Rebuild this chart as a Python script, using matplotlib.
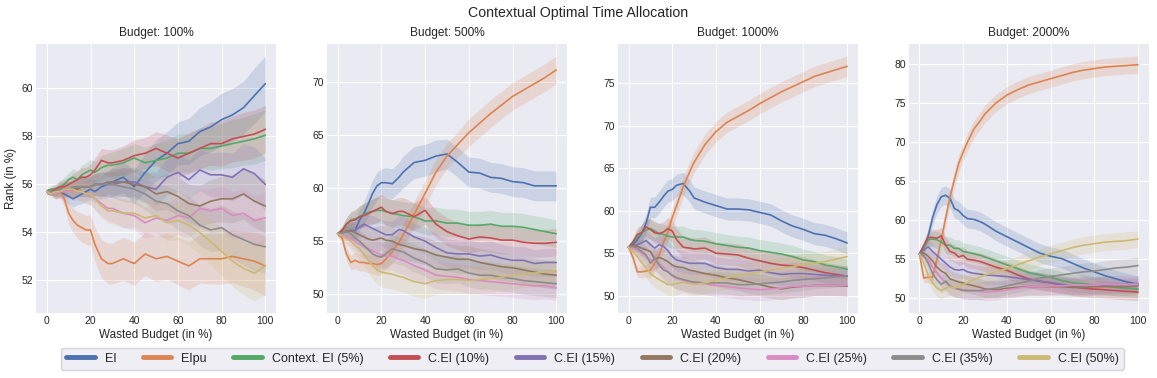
import numpy as np
import matplotlib
matplotlib.use('Agg')
import matplotlib.pyplot as plt
from matplotlib.lines import Line2D

plt.style.use('seaborn-v0_8-darkgrid')
plt.rcParams['font.family'] = ['Liberation Sans', 'DejaVu Sans']

# wasted budget (in %), common sampling of all curves
wasted = [0, 2, 4, 6, 8, 10, 12, 14, 16, 18, 20, 22, 25, 28, 30, 35, 40, 45,
          50, 55, 60, 65, 70, 75, 80, 85, 90, 95, 100]

methods = ['EI', 'EIpu', 'Context. EI (5%)', 'C.EI (10%)', 'C.EI (15%)',
           'C.EI (20%)', 'C.EI (25%)', 'C.EI (35%)', 'C.EI (50%)']
colors = ['#4C72B0', '#DD8452', '#55A868', '#C44E52', '#8172B3',
          '#937860', '#DA8BC3', '#8C8C8C', '#CCB974']
budgets = ['Budget: 100%', 'Budget: 500%', 'Budget: 1000%', 'Budget: 2000%']

# ---- Budget 100% : mean rank
rank_100 = [
    [55.7, 55.7, 55.6, 55.7, 55.6, 55.5, 55.4, 55.5, 55.6, 55.7, 55.8, 55.7, 55.9, 56.0, 56.1, 56.3, 55.9, 56.5, 57.0, 57.3, 57.7, 57.8, 58.2, 58.4, 58.7, 58.9, 59.2, 59.7, 60.2],
    [55.7, 55.7, 55.6, 55.7, 55.4, 54.8, 54.5, 54.3, 54.2, 54.1, 54.1, 53.5, 52.9, 52.7, 52.7, 52.9, 52.7, 53.1, 52.9, 53.0, 52.8, 52.6, 52.9, 52.9, 52.9, 53.0, 52.9, 52.8, 52.6],
    [55.7, 55.8, 55.8, 55.9, 56.0, 56.2, 56.3, 56.2, 56.4, 56.5, 56.6, 56.5, 56.7, 56.8, 56.8, 56.9, 57.1, 56.9, 57.0, 57.1, 57.3, 57.3, 57.5, 57.5, 57.6, 57.7, 57.8, 57.9, 58.05],
    [55.7, 55.7, 55.8, 55.9, 55.9, 56.0, 56.1, 56.2, 56.3, 56.3, 56.4, 56.6, 57.0, 56.9, 56.9, 57.0, 57.2, 57.3, 57.5, 57.3, 57.1, 57.3, 57.5, 57.7, 57.7, 57.9, 58.0, 58.1, 58.3],
    [55.7, 55.7, 55.7, 55.8, 55.8, 55.8, 55.8, 55.9, 55.9, 55.9, 55.9, 56.0, 56.0, 56.0, 56.0, 56.1, 56.1, 55.9, 55.8, 56.3, 56.5, 56.2, 56.6, 56.4, 56.4, 56.3, 56.65, 56.45, 56.0],
    [55.7, 55.7, 55.7, 55.7, 55.8, 55.8, 55.8, 55.8, 55.9, 55.9, 55.9, 56.0, 56.0, 56.1, 56.1, 56.1, 56.0, 55.9, 55.6, 55.7, 55.5, 55.2, 55.1, 55.3, 55.4, 55.4, 55.6, 55.3, 55.1],
    [55.7, 55.7, 55.6, 55.7, 55.7, 55.7, 55.7, 55.7, 55.7, 55.6, 55.6, 55.4, 55.2, 55.0, 55.0, 54.8, 54.7, 54.4, 54.6, 54.5, 54.7, 54.6, 55.0, 54.9, 55.0, 54.7, 54.8, 54.5, 54.6],
    [55.7, 55.7, 55.7, 55.8, 55.8, 55.8, 55.9, 55.9, 55.9, 55.9, 55.9, 56.0, 56.0, 56.0, 56.0, 55.9, 55.8, 55.6, 55.3, 55.2, 54.9, 54.7, 54.3, 54.1, 54.2, 53.9, 53.7, 53.5, 53.4],
    [55.7, 55.6, 55.7, 55.7, 55.8, 55.8, 55.8, 55.7, 55.7, 55.6, 55.6, 55.4, 55.1, 54.9, 54.9, 54.8, 54.8, 54.6, 54.7, 54.4, 54.5, 54.3, 54.0, 53.6, 53.2, 52.8, 52.5, 52.3, 52.6],
]
# half width of the shaded band
band_100 = [
    [0.1, 0.15, 0.2, 0.25, 0.3, 0.3, 0.35, 0.35, 0.4, 0.4, 0.45, 0.45, 0.5, 0.55, 0.6, 0.65, 0.7, 0.8, 0.85, 0.9, 0.9, 0.95, 1.0, 1.05, 1.1, 1.1, 1.1, 1.15, 1.15],
    [0.1, 0.15, 0.2, 0.25, 0.3, 0.45, 0.5, 0.55, 0.6, 0.6, 0.65, 0.7, 0.8, 0.85, 0.85, 0.9, 0.9, 0.9, 0.95, 0.95, 1.0, 1.0, 1.0, 1.05, 1.05, 1.1, 1.15, 1.2, 1.25],
    [0.1, 0.15, 0.2, 0.25, 0.3, 0.3, 0.35, 0.35, 0.4, 0.4, 0.45, 0.45, 0.5, 0.5, 0.55, 0.6, 0.6, 0.65, 0.7, 0.75, 0.8, 0.8, 0.85, 0.9, 0.95, 1.0, 1.0, 1.05, 1.05],
    [0.1, 0.15, 0.2, 0.25, 0.3, 0.3, 0.35, 0.35, 0.4, 0.4, 0.45, 0.5, 0.5, 0.55, 0.55, 0.6, 0.65, 0.65, 0.7, 0.75, 0.8, 0.85, 0.85, 0.9, 0.95, 0.95, 1.0, 1.0, 1.0],
    [0.1, 0.15, 0.2, 0.25, 0.3, 0.3, 0.35, 0.35, 0.4, 0.4, 0.45, 0.45, 0.5, 0.5, 0.55, 0.6, 0.6, 0.65, 0.7, 0.75, 0.8, 0.8, 0.85, 0.9, 0.95, 1.0, 1.05, 1.1, 1.1],
    [0.1, 0.15, 0.2, 0.25, 0.3, 0.3, 0.35, 0.35, 0.4, 0.4, 0.45, 0.45, 0.5, 0.5, 0.55, 0.6, 0.6, 0.65, 0.7, 0.75, 0.8, 0.8, 0.85, 0.9, 0.95, 1.0, 1.05, 1.1, 1.1],
    [0.1, 0.15, 0.2, 0.25, 0.3, 0.3, 0.35, 0.35, 0.4, 0.4, 0.45, 0.45, 0.5, 0.5, 0.55, 0.6, 0.6, 0.65, 0.7, 0.75, 0.8, 0.8, 0.85, 0.9, 0.95, 1.0, 1.0, 1.05, 1.05],
    [0.1, 0.15, 0.2, 0.25, 0.3, 0.3, 0.35, 0.35, 0.4, 0.4, 0.45, 0.45, 0.5, 0.5, 0.55, 0.6, 0.6, 0.65, 0.7, 0.75, 0.8, 0.8, 0.85, 0.9, 0.95, 1.0, 1.05, 1.1, 1.1],
    [0.1, 0.15, 0.2, 0.25, 0.3, 0.3, 0.35, 0.35, 0.4, 0.4, 0.45, 0.45, 0.5, 0.5, 0.55, 0.6, 0.6, 0.65, 0.7, 0.75, 0.8, 0.85, 0.9, 0.95, 1.0, 1.05, 1.1, 1.15, 1.2],
]

# ---- Budget 500%
rank_500 = [
    [55.7, 55.8, 55.9, 56.0, 56.0, 57.0, 57.6, 58.5, 59.5, 60.2, 60.5, 60.5, 60.4, 61.0, 61.5, 62.4, 62.6, 63.0, 63.2, 62.4, 61.5, 61.4, 61.0, 60.9, 60.6, 60.5, 60.2, 60.2, 60.2],
    [55.7, 55.3, 53.8, 53.0, 53.2, 53.0, 53.0, 52.9, 52.9, 52.8, 52.9, 53.3, 54.0, 54.9, 55.6, 57.5, 59.5, 61.5, 63.0, 64.1, 65.2, 66.1, 67.0, 67.8, 68.6, 69.2, 69.8, 70.4, 71.1],
    [55.7, 56.0, 56.6, 57.0, 57.1, 57.3, 57.5, 57.7, 57.8, 57.9, 57.9, 57.8, 57.6, 57.5, 57.4, 57.3, 56.9, 56.9, 56.7, 56.7, 56.5, 56.5, 56.6, 56.4, 56.4, 56.3, 56.1, 55.9, 55.7],
    [55.7, 56.0, 56.6, 56.9, 57.0, 57.3, 57.4, 57.6, 57.8, 58.0, 58.2, 57.8, 57.6, 57.8, 57.8, 57.3, 57.9, 56.6, 55.9, 55.5, 55.2, 55.4, 55.3, 55.1, 55.1, 54.9, 54.8, 54.8, 54.9],
    [55.7, 55.8, 55.9, 56.0, 56.0, 56.3, 56.6, 56.4, 56.2, 56.0, 55.8, 55.6, 55.6, 56.1, 56.0, 55.4, 55.0, 54.4, 53.9, 53.8, 53.8, 53.6, 53.7, 53.4, 53.2, 53.2, 52.9, 53.0, 53.0],
    [55.7, 55.8, 56.0, 56.0, 55.8, 55.6, 55.4, 55.2, 55.1, 55.2, 55.3, 55.1, 55.0, 54.7, 54.6, 54.3, 54.1, 53.7, 53.5, 53.3, 53.3, 53.0, 52.8, 52.6, 52.5, 52.3, 52.1, 51.9, 51.8],
    [55.7, 55.6, 55.4, 55.2, 55.0, 54.7, 54.5, 54.3, 54.1, 53.9, 53.7, 53.6, 53.6, 53.3, 53.2, 52.7, 52.3, 51.8, 51.7, 51.6, 51.4, 51.3, 51.2, 51.1, 51.0, 50.9, 50.8, 50.8, 50.6],
    [55.7, 55.8, 55.9, 55.7, 55.3, 55.0, 54.6, 54.2, 53.8, 53.6, 53.5, 53.8, 54.3, 54.1, 54.0, 53.4, 53.0, 52.4, 52.3, 52.4, 52.0, 51.8, 51.8, 51.6, 51.5, 51.3, 51.2, 51.1, 51.0],
    [55.7, 55.5, 55.2, 55.0, 54.6, 54.3, 53.8, 53.2, 52.7, 52.3, 52.1, 52.0, 51.9, 51.7, 51.6, 51.2, 51.0, 51.3, 51.4, 51.4, 51.3, 51.4, 51.5, 51.6, 51.8, 51.9, 52.0, 52.1, 52.2],
]
band_500 = [
    [0.2, 0.4, 0.6, 0.8, 0.9, 1.0, 1.1, 1.2, 1.3, 1.3, 1.3, 1.4, 1.4, 1.4, 1.5, 1.5, 1.5, 1.5, 1.4, 1.4, 1.4, 1.4, 1.4, 1.4, 1.4, 1.4, 1.4, 1.4, 1.4],
    [0.2, 0.4, 0.6, 0.7, 0.8, 0.8, 0.8, 0.9, 0.9, 1.0, 1.0, 1.0, 1.1, 1.1, 1.1, 1.2, 1.2, 1.2, 1.2, 1.2, 1.3, 1.3, 1.3, 1.3, 1.3, 1.3, 1.3, 1.3, 1.3],
    [0.2, 0.4, 0.6, 0.8, 0.9, 1.0, 1.1, 1.1, 1.2, 1.2, 1.2, 1.3, 1.3, 1.3, 1.3, 1.3, 1.3, 1.3, 1.3, 1.3, 1.3, 1.3, 1.3, 1.3, 1.3, 1.3, 1.3, 1.3, 1.3],
    [0.2, 0.4, 0.6, 0.8, 0.9, 1.0, 1.1, 1.1, 1.2, 1.2, 1.2, 1.3, 1.3, 1.3, 1.3, 1.3, 1.3, 1.3, 1.3, 1.3, 1.3, 1.3, 1.3, 1.3, 1.3, 1.3, 1.3, 1.3, 1.3],
    [0.2, 0.4, 0.6, 0.8, 0.9, 1.0, 1.1, 1.1, 1.2, 1.2, 1.2, 1.3, 1.3, 1.3, 1.3, 1.3, 1.3, 1.3, 1.3, 1.3, 1.3, 1.3, 1.3, 1.3, 1.3, 1.3, 1.3, 1.3, 1.3],
    [0.2, 0.4, 0.6, 0.8, 0.9, 1.0, 1.1, 1.1, 1.2, 1.2, 1.2, 1.3, 1.3, 1.3, 1.3, 1.3, 1.3, 1.3, 1.3, 1.3, 1.3, 1.3, 1.3, 1.3, 1.3, 1.3, 1.3, 1.3, 1.3],
    [0.2, 0.4, 0.6, 0.8, 0.9, 1.0, 1.1, 1.1, 1.2, 1.2, 1.2, 1.3, 1.3, 1.3, 1.3, 1.3, 1.3, 1.3, 1.3, 1.3, 1.3, 1.3, 1.3, 1.3, 1.3, 1.3, 1.3, 1.2, 1.2],
    [0.2, 0.4, 0.6, 0.8, 0.9, 1.0, 1.1, 1.1, 1.2, 1.2, 1.2, 1.3, 1.3, 1.3, 1.3, 1.3, 1.3, 1.3, 1.3, 1.3, 1.3, 1.3, 1.3, 1.3, 1.3, 1.3, 1.3, 1.3, 1.3],
    [0.2, 0.4, 0.6, 0.8, 0.9, 1.0, 1.1, 1.2, 1.3, 1.3, 1.4, 1.4, 1.4, 1.4, 1.4, 1.4, 1.4, 1.3, 1.3, 1.3, 1.3, 1.3, 1.3, 1.3, 1.3, 1.3, 1.3, 1.3, 1.3],
]

# ---- Budget 1000%
rank_1000 = [
    [55.7, 56.0, 56.6, 57.3, 58.5, 60.4, 60.4, 61.0, 61.7, 62.3, 62.5, 63.0, 63.2, 62.3, 61.5, 61.0, 60.6, 60.2, 60.2, 60.1, 59.8, 59.5, 58.8, 58.2, 57.8, 57.3, 57.1, 56.7, 56.2],
    [55.7, 54.5, 52.8, 52.8, 52.9, 53.0, 53.8, 54.8, 56.2, 57.5, 59.2, 60.6, 62.8, 64.6, 65.7, 67.8, 69.3, 70.4, 71.1, 71.8, 72.6, 73.3, 74.0, 74.6, 75.2, 75.8, 76.2, 76.6, 77.0],
    [55.7, 56.3, 56.9, 57.4, 57.7, 57.9, 57.6, 57.3, 57.2, 57.0, 56.9, 56.9, 56.9, 56.6, 56.5, 56.4, 56.1, 55.9, 55.7, 55.6, 55.3, 55.1, 54.9, 54.6, 54.2, 54.0, 53.6, 53.4, 53.1],
    [55.7, 56.3, 57.2, 57.4, 58.1, 57.8, 57.4, 57.3, 57.5, 57.9, 57.6, 56.6, 55.7, 55.6, 55.5, 55.6, 55.0, 54.9, 54.8, 54.4, 54.1, 53.8, 53.6, 53.5, 53.3, 53.0, 52.7, 52.5, 52.3],
    [55.7, 55.9, 56.0, 56.2, 56.5, 56.0, 55.6, 56.0, 55.8, 55.3, 54.6, 54.2, 54.0, 53.8, 53.8, 53.8, 53.3, 53.1, 53.1, 52.9, 53.0, 52.7, 52.5, 52.6, 52.6, 52.5, 52.4, 52.3, 52.3],
    [55.7, 55.9, 55.8, 55.6, 55.4, 55.2, 54.3, 54.5, 54.3, 54.0, 53.6, 53.4, 53.3, 53.0, 52.9, 52.6, 52.4, 52.1, 51.9, 51.6, 51.3, 51.0, 50.8, 51.0, 51.1, 51.2, 51.2, 51.2, 51.1],
    [55.7, 55.6, 55.4, 55.0, 54.6, 54.2, 54.1, 53.8, 53.3, 52.8, 52.3, 52.0, 51.8, 51.6, 51.5, 51.4, 51.2, 51.1, 50.9, 50.8, 50.7, 50.8, 50.9, 51.1, 51.1, 51.2, 51.2, 51.2, 51.2],
    [55.7, 55.8, 55.6, 55.2, 54.8, 53.8, 54.4, 53.6, 53.0, 52.8, 52.4, 52.1, 51.9, 51.7, 51.6, 51.5, 51.5, 51.5, 51.3, 51.3, 51.4, 51.5, 51.6, 51.8, 51.9, 52.0, 52.1, 52.2, 52.3],
    [55.7, 55.2, 54.6, 53.9, 53.3, 52.6, 52.2, 51.9, 51.6, 51.3, 51.3, 51.4, 51.6, 51.4, 51.3, 51.5, 51.8, 52.1, 52.4, 52.6, 52.8, 53.0, 53.2, 53.4, 53.7, 53.8, 54.0, 54.3, 54.6],
]
band_1000 = [
    [0.2, 0.5, 0.8, 1.0, 1.1, 1.2, 1.2, 1.3, 1.3, 1.3, 1.3, 1.3, 1.3, 1.3, 1.3, 1.3, 1.3, 1.3, 1.3, 1.3, 1.3, 1.3, 1.3, 1.3, 1.3, 1.3, 1.3, 1.3, 1.3],
    [0.2, 0.5, 0.6, 0.7, 0.8, 0.9, 1.0, 1.0, 1.1, 1.1, 1.2, 1.2, 1.2, 1.2, 1.2, 1.2, 1.2, 1.2, 1.2, 1.2, 1.2, 1.2, 1.2, 1.2, 1.2, 1.2, 1.2, 1.2, 1.2],
    [0.2, 0.5, 0.8, 1.0, 1.1, 1.2, 1.2, 1.2, 1.2, 1.3, 1.3, 1.3, 1.3, 1.3, 1.3, 1.3, 1.3, 1.3, 1.3, 1.3, 1.3, 1.3, 1.3, 1.3, 1.3, 1.2, 1.2, 1.2, 1.2],
    [0.2, 0.5, 0.8, 1.0, 1.1, 1.2, 1.2, 1.2, 1.2, 1.3, 1.3, 1.3, 1.3, 1.3, 1.3, 1.3, 1.3, 1.3, 1.3, 1.3, 1.3, 1.3, 1.3, 1.3, 1.3, 1.2, 1.2, 1.2, 1.2],
    [0.2, 0.5, 0.8, 1.0, 1.1, 1.2, 1.2, 1.2, 1.2, 1.3, 1.3, 1.3, 1.3, 1.3, 1.3, 1.3, 1.3, 1.3, 1.3, 1.3, 1.3, 1.3, 1.3, 1.3, 1.3, 1.2, 1.2, 1.2, 1.2],
    [0.2, 0.5, 0.8, 1.0, 1.1, 1.2, 1.2, 1.2, 1.2, 1.3, 1.3, 1.3, 1.3, 1.3, 1.3, 1.3, 1.3, 1.3, 1.3, 1.3, 1.3, 1.3, 1.3, 1.3, 1.3, 1.2, 1.2, 1.2, 1.2],
    [0.2, 0.5, 0.8, 1.0, 1.1, 1.2, 1.2, 1.2, 1.2, 1.3, 1.3, 1.3, 1.3, 1.3, 1.3, 1.3, 1.3, 1.3, 1.3, 1.3, 1.3, 1.3, 1.3, 1.3, 1.3, 1.2, 1.2, 1.2, 1.2],
    [0.2, 0.5, 0.8, 1.0, 1.1, 1.2, 1.2, 1.2, 1.2, 1.3, 1.3, 1.3, 1.3, 1.3, 1.3, 1.3, 1.3, 1.3, 1.3, 1.3, 1.3, 1.3, 1.3, 1.3, 1.3, 1.2, 1.2, 1.2, 1.2],
    [0.2, 0.5, 0.8, 1.0, 1.1, 1.2, 1.2, 1.2, 1.2, 1.3, 1.3, 1.3, 1.3, 1.3, 1.3, 1.3, 1.3, 1.3, 1.3, 1.3, 1.3, 1.3, 1.3, 1.3, 1.3, 1.2, 1.2, 1.2, 1.2],
]

# ---- Budget 2000%
rank_2000 = [
    [55.7, 56.5, 58.0, 60.3, 62.0, 63.0, 63.2, 62.8, 61.5, 61.2, 60.6, 60.2, 60.1, 59.8, 59.5, 58.6, 57.9, 57.2, 56.5, 55.8, 55.4, 55.1, 54.5, 53.9, 53.4, 52.9, 52.5, 52.1, 51.8],
    [55.7, 52.6, 52.7, 52.7, 55.0, 57.5, 60.3, 63.0, 65.2, 67.3, 68.7, 70.0, 71.7, 72.8, 73.6, 75.0, 76.0, 76.7, 77.3, 77.7, 78.1, 78.5, 78.9, 79.2, 79.4, 79.6, 79.7, 79.8, 79.9],
    [55.7, 56.5, 57.5, 57.6, 57.5, 57.2, 56.8, 56.8, 56.4, 56.4, 56.0, 55.9, 55.7, 55.5, 55.3, 54.8, 54.3, 53.8, 53.3, 53.0, 52.7, 52.3, 52.0, 51.9, 51.7, 51.6, 51.4, 51.3, 51.2],
    [55.7, 56.8, 57.8, 57.8, 57.7, 58.0, 56.8, 56.0, 55.8, 55.3, 55.5, 55.0, 54.9, 54.7, 54.5, 54.0, 53.6, 53.0, 52.5, 52.2, 52.0, 51.7, 51.5, 51.3, 51.2, 51.1, 51.0, 50.9, 50.8],
    [55.7, 56.2, 56.6, 56.0, 55.5, 55.0, 54.5, 54.0, 53.7, 53.6, 53.7, 53.4, 53.2, 53.1, 53.0, 52.9, 52.8, 52.6, 52.4, 52.2, 52.0, 51.8, 51.6, 51.6, 51.6, 51.7, 51.8, 51.8, 51.9],
    [55.7, 55.8, 55.4, 54.8, 54.0, 53.5, 53.2, 52.5, 52.3, 52.1, 52.0, 51.8, 51.6, 51.4, 51.2, 51.1, 51.3, 51.4, 51.5, 51.5, 51.5, 51.5, 51.4, 51.4, 51.5, 51.5, 51.5, 51.5, 51.6],
    [55.7, 55.3, 55.0, 54.0, 53.3, 52.6, 52.0, 51.5, 51.3, 51.2, 51.1, 51.0, 51.0, 50.9, 50.8, 50.9, 51.1, 51.3, 51.5, 51.5, 51.6, 51.6, 51.7, 51.7, 51.7, 51.8, 51.8, 51.8, 51.8],
    [55.7, 55.5, 54.5, 53.2, 52.4, 51.8, 52.2, 51.6, 51.3, 51.2, 51.0, 51.0, 51.0, 51.0, 51.1, 51.3, 51.6, 51.9, 52.2, 52.6, 52.8, 53.0, 53.2, 53.4, 53.5, 53.7, 53.9, 54.0, 54.2],
    [55.7, 54.5, 53.0, 52.0, 51.3, 51.0, 51.3, 51.5, 51.3, 51.5, 51.8, 52.0, 52.4, 52.8, 53.0, 53.4, 53.8, 54.3, 54.8, 55.3, 55.7, 56.1, 56.5, 56.8, 57.0, 57.2, 57.3, 57.4, 57.6],
]
band_2000 = [
    [0.2, 0.6, 0.9, 1.0, 1.1, 1.2, 1.2, 1.2, 1.2, 1.2, 1.2, 1.2, 1.2, 1.2, 1.2, 1.2, 1.2, 1.2, 1.2, 1.2, 1.2, 1.2, 1.2, 1.2, 1.1, 1.1, 1.1, 1.1, 1.1],
    [0.2, 0.6, 0.7, 0.8, 0.9, 1.0, 1.0, 1.1, 1.1, 1.1, 1.1, 1.1, 1.1, 1.1, 1.1, 1.1, 1.1, 1.1, 1.1, 1.1, 1.1, 1.1, 1.1, 1.1, 1.1, 1.1, 1.1, 1.1, 1.1],
    [0.2, 0.6, 0.9, 1.0, 1.1, 1.1, 1.1, 1.1, 1.1, 1.1, 1.1, 1.1, 1.1, 1.1, 1.1, 1.1, 1.1, 1.1, 1.1, 1.1, 1.1, 1.1, 1.1, 1.1, 1.1, 1.1, 1.1, 1.1, 1.1],
    [0.2, 0.6, 0.9, 1.0, 1.1, 1.1, 1.1, 1.1, 1.1, 1.1, 1.1, 1.1, 1.1, 1.1, 1.1, 1.1, 1.1, 1.1, 1.1, 1.1, 1.1, 1.1, 1.1, 1.1, 1.1, 1.1, 1.1, 1.1, 1.1],
    [0.2, 0.6, 0.9, 1.0, 1.1, 1.1, 1.1, 1.1, 1.1, 1.1, 1.1, 1.1, 1.1, 1.1, 1.1, 1.1, 1.1, 1.1, 1.1, 1.1, 1.1, 1.1, 1.1, 1.1, 1.1, 1.1, 1.1, 1.1, 1.1],
    [0.2, 0.6, 0.9, 1.0, 1.1, 1.1, 1.1, 1.1, 1.1, 1.1, 1.1, 1.1, 1.1, 1.1, 1.1, 1.1, 1.1, 1.1, 1.1, 1.1, 1.1, 1.1, 1.1, 1.1, 1.1, 1.1, 1.1, 1.1, 1.1],
    [0.2, 0.6, 0.9, 1.0, 1.1, 1.1, 1.1, 1.1, 1.1, 1.1, 1.1, 1.1, 1.1, 1.1, 1.1, 1.1, 1.1, 1.1, 1.1, 1.1, 1.1, 1.1, 1.1, 1.1, 1.1, 1.1, 1.1, 1.1, 1.1],
    [0.2, 0.6, 0.9, 1.0, 1.1, 1.1, 1.1, 1.1, 1.1, 1.1, 1.1, 1.1, 1.1, 1.1, 1.1, 1.1, 1.1, 1.1, 1.1, 1.1, 1.1, 1.1, 1.1, 1.1, 1.1, 1.1, 1.1, 1.1, 1.1],
    [0.2, 0.6, 0.9, 1.0, 1.1, 1.1, 1.1, 1.1, 1.1, 1.1, 1.1, 1.1, 1.1, 1.1, 1.1, 1.1, 1.1, 1.1, 1.1, 1.1, 1.1, 1.1, 1.1, 1.1, 1.1, 1.1, 1.1, 1.1, 1.1],
]

ranks = [rank_100, rank_500, rank_1000, rank_2000]
bands = [band_100, band_500, band_1000, band_2000]

fig, axes = plt.subplots(1, 4, figsize=(11.57, 3.78), dpi=100)
fig.subplots_adjust(left=0.031, right=0.993, top=0.884, bottom=0.172, wspace=0.21)

x = np.array(wasted)
for ax, title, rank, band in zip(axes, budgets, ranks, bands):
    for mean, hw, c in zip(rank, band, colors):
        mean = np.array(mean)
        hw = np.array(hw)
        ax.fill_between(x, mean - hw, mean + hw, color=c, alpha=0.2, linewidth=0)
        ax.plot(x, mean, color=c, linewidth=1.2)
    ax.set_title(title, fontsize=8.6)
    ax.set_xlabel('Wasted Budget (in %)', fontsize=8.4, labelpad=2)
    ax.tick_params(labelsize=7.5, pad=2)
    ax.set_xticks([0, 20, 40, 60, 80, 100])

axes[0].set_ylabel('Rank (in %)', fontsize=8.4, labelpad=3)
fig.suptitle('Contextual Optimal Time Allocation', fontsize=10.2, y=0.985)

handles = [Line2D([0], [0], color=c, linewidth=3.5) for c in colors]
fig.legend(handles, methods, loc='lower center', bbox_to_anchor=(0.512, 0.005),
           ncol=9, fontsize=9, frameon=True, facecolor='#EAEAF2',
           edgecolor='#CCCCCC', handlelength=2.3, columnspacing=2.1)

plt.savefig('out.png', dpi=100)
